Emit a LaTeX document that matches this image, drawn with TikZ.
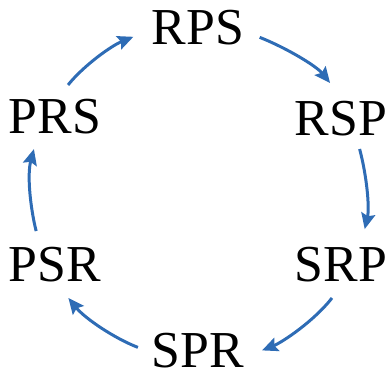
\documentclass[tikz,border=0pt]{standalone}
\usepackage{fontspec}
\setmainfont{Liberation Serif}
\usepackage{xcolor}
\usetikzlibrary{arrows.meta}

\definecolor{cycleblue}{RGB}{46,108,181}

\begin{document}
\begin{tikzpicture}[x=0.02cm, y=-0.02cm,
    perm/.style={inner sep=3pt, font=\fontsize{29.5}{30}\selectfont},
    cyc/.style={draw=cycleblue, line width=1.7pt, looseness=0.9,
        -{Stealth[length=9pt, width=8pt, inset=1.5pt]}}]
    \useasboundingbox (0,0) rectangle (390,374);

    \node[perm] (RPS) at (198,28) {RPS};
    \node[perm] (RSP) at (341,119) {RSP};
    \node[perm] (SRP) at (341,265) {SRP};
    \node[perm, inner sep=0pt] (SPR) at (198,351) {SPR};
    \node[perm] (PSR) at (55,265) {PSR};
    \node[perm] (PRS) at (55,117) {PRS};

    % arcs round the ring, clockwise
    \draw[cyc, shorten <=6.1pt, shorten >=9.5pt] (RPS.-6) to[out=-21.5, in=129] (RSP.91);
    \draw[cyc, shorten <=4.1pt, shorten >=7.5pt] (RSP.-54) to[out=-75, in=77] (SRP.48);
    \draw[cyc, shorten <=7.2pt, shorten >=10.8pt] (SRP.-93) to[out=-128, in=22] (SPR.-8);
    \draw[cyc, shorten <=8.3pt, shorten >=7.3pt] (SPR.-178.5) to[out=159, in=-51] (PSR.-77);
    \draw[cyc, shorten <=6.4pt, shorten >=5.3pt] (PSR.125) to[out=104, in=-105] (PRS.-129);
    \draw[cyc, shorten <=6.6pt, shorten >=7.9pt] (PRS.76) to[out=51, in=-158] (RPS.-176);
\end{tikzpicture}
\end{document}
